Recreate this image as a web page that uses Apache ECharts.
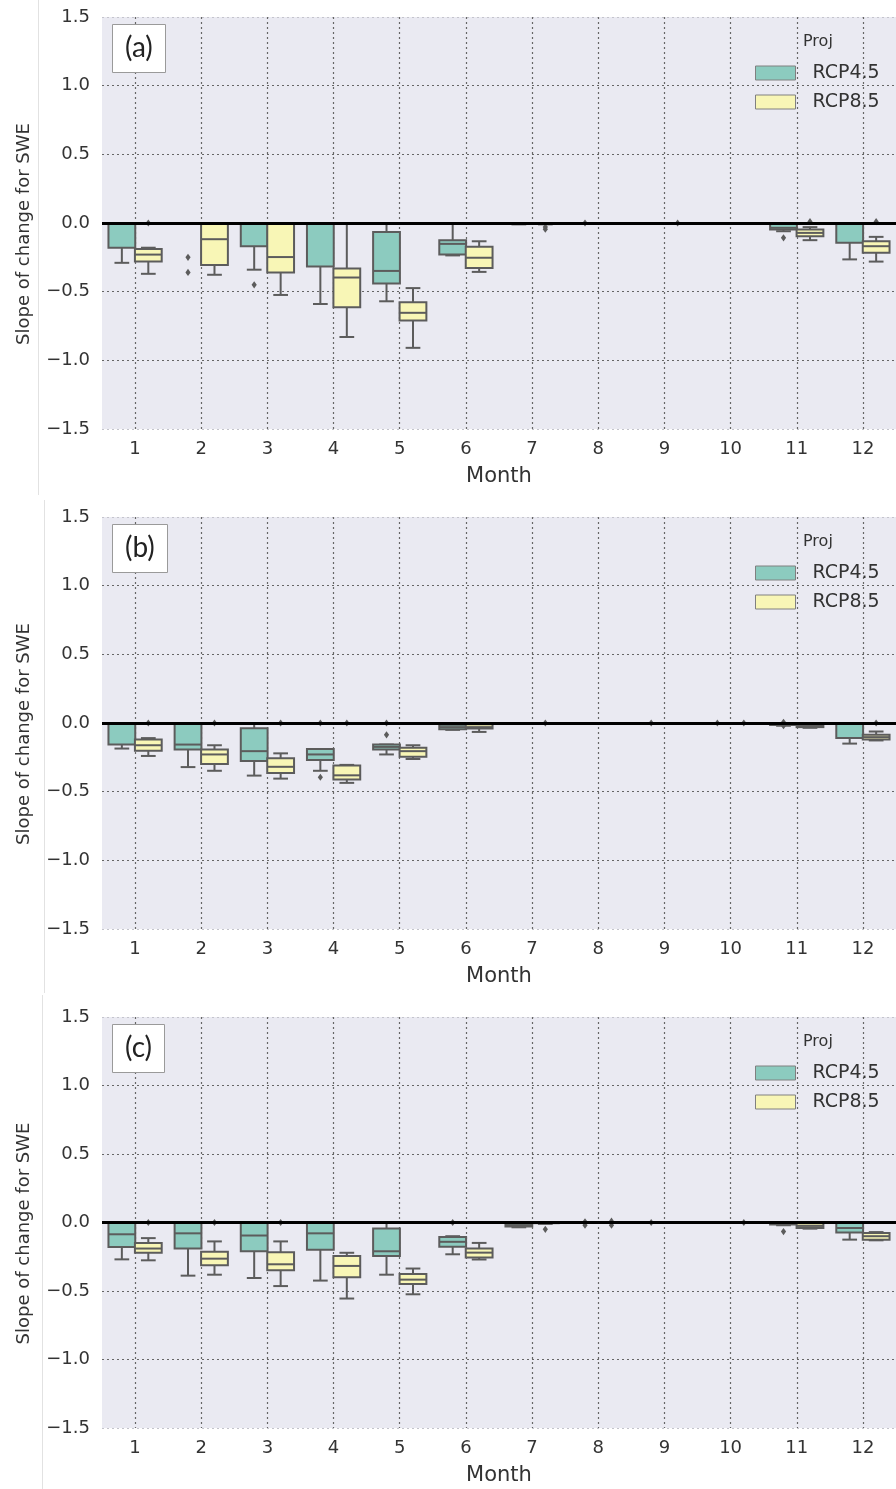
<!DOCTYPE html>
<html><head><meta charset="utf-8">
<script src="https://cdn.jsdelivr.net/npm/echarts@6/dist/echarts.min.js"></script>
<style>html,body{margin:0;padding:0;background:#fff}#c{width:896px;height:1489px}</style>
</head><body><div id="c"></div>
<script>
// ---------- data ----------
const months = ['1','2','3','4','5','6','7','8','9','10','11','12'];
const projections = ['RCP4.5', 'RCP8.5'];
const panelLabels = ['(a)', '(b)', '(c)'];
const yMin = -1.5, yMax = 1.5, yStep = 0.5;

// box stats per month: [min, q1, median, q3, max]
const boxA45 = [[-0.29,-0.18,0,0,0],[0,0,0,0,0],[-0.34,-0.17,0,0,0],[-0.59,-0.317,0,0,0],[-0.57,-0.44,-0.349,-0.065,0],[-0.236,-0.229,-0.152,-0.126,0],[-0.01,-0.005,0,0,0],[0,0,0,0,0],[0,0,0,0,0],[0,0,0,0,0],[-0.06,-0.048,-0.035,0,0],[-0.265,-0.144,0,0,0]];
const boxA85 = [[-0.37,-0.28,-0.23,-0.19,-0.18],[-0.377,-0.305,-0.118,0,0],[-0.524,-0.36,-0.248,0,0],[-0.83,-0.613,-0.397,-0.332,0],[-0.909,-0.71,-0.654,-0.577,-0.474],[-0.356,-0.327,-0.253,-0.173,-0.133],[-0.01,-0.005,0,0,0],[0,0,0,0,0],[0,0,0,0,0],[0,0,0,0,0],[-0.125,-0.096,-0.072,-0.048,-0.03],[-0.281,-0.216,-0.169,-0.133,-0.101]];
const outA45 = [[2,-0.25],[2,-0.36],[3,-0.45],[8,0.0],[11,-0.108]];
const outA85 = [[1,0.0],[7,-0.03],[7,-0.045],[9,0.0],[11,0.01],[12,0.01]];

const boxB45 = [[-0.186,-0.157,0,0,0],[-0.321,-0.193,-0.157,0,0],[-0.383,-0.276,-0.205,-0.038,0],[-0.348,-0.269,-0.229,-0.19,-0.19],[-0.229,-0.193,-0.174,-0.157,-0.157],[-0.05,-0.045,-0.03,-0.012,0],[0,0,0,0,0],[0,0,0,0,0],[0,0,0,0,0],[0,0,0,0,0],[-0.02,-0.015,-0.005,0,0],[-0.15,-0.11,0,0,0]];
const boxB85 = [[-0.24,-0.202,-0.162,-0.121,-0.11],[-0.348,-0.299,-0.229,-0.193,-0.162],[-0.405,-0.364,-0.319,-0.257,-0.221],[-0.436,-0.412,-0.381,-0.31,-0.305],[-0.262,-0.245,-0.205,-0.181,-0.162],[-0.065,-0.04,-0.03,-0.01,0],[0,0,0,0,0],[0,0,0,0,0],[0,0,0,0,0],[0,0,0,0,0],[-0.035,-0.03,-0.025,-0.02,-0.01],[-0.127,-0.12,-0.103,-0.086,-0.062]];
const outB45 = [[4,0.0],[4,-0.395],[5,0.0],[5,-0.086],[9,0.0],[10,0.0],[11,0.005],[11,-0.02]];
const outB85 = [[1,0.0],[2,0.0],[3,0.0],[4,0.0],[7,0.0],[10,0.0],[12,0.0]];

const boxC45 = [[-0.269,-0.179,-0.086,0,0],[-0.388,-0.19,-0.079,0,0],[-0.405,-0.21,-0.095,0,0],[-0.424,-0.198,-0.079,0,0],[-0.381,-0.245,-0.21,-0.043,0],[-0.232,-0.177,-0.141,-0.106,-0.1],[-0.035,-0.03,-0.02,-0.01,0],[0,0,0,0,0],[0,0,0,0,0],[0,0,0,0,0],[-0.02,-0.015,-0.01,0,0],[-0.125,-0.073,-0.04,0,0]];
const boxC85 = [[-0.276,-0.221,-0.19,-0.15,-0.114],[-0.381,-0.312,-0.264,-0.214,-0.138],[-0.464,-0.348,-0.305,-0.217,-0.138],[-0.555,-0.4,-0.317,-0.245,-0.221],[-0.524,-0.448,-0.417,-0.376,-0.336],[-0.27,-0.256,-0.22,-0.19,-0.149],[-0.01,-0.005,0,0,0],[0,0,0,0,0],[0,0,0,0,0],[0,0,0,0,0],[-0.045,-0.04,-0.025,-0.005,0],[-0.13,-0.125,-0.1,-0.077,-0.07]];
const outC45 = [[6,0.0],[8,0.005],[8,-0.02],[9,0.0],[11,-0.066]];
const outC85 = [[1,0.0],[2,0.0],[3,0.0],[7,-0.05],[8,0.01],[8,-0.02],[10,0.0]];

// ---------- styling ----------
const TEAL = '#8ccbbf', YELLOW = '#f8f6b6', EDGE = '#5c5c5c';
const GRID_BG = '#eaeaf2', TXT = '#333333';
const panelTops = [17, 517, 1017];
const panelHeights = [412, 412, 411];
const panels = [
  {box: [boxA45, boxA85], out: [outA45, outA85]},
  {box: [boxB45, boxB85], out: [outB45, outB85]},
  {box: [boxC45, boxC85], out: [outC45, outC85]}
];
const colors = [TEAL, YELLOW];
const offsets = [-0.2, 0.2];

function boxRenderer(off) {
  return function (params, api) {
    const i = api.value(0);
    const band = api.size([1, 0])[0];
    const xc = api.coord([i, 0])[0] + off * band;
    const w = band * 0.405, cw = w * 0.55;
    const y = k => api.coord([i, api.value(k)])[1];
    const yLo = y(1), yQ1 = y(2), yMed = y(3), yQ3 = y(4), yHi = y(5);
    const st = {stroke: EDGE, lineWidth: 2, fill: null};
    return {type: 'group', children: [
      {type: 'line', shape: {x1: xc, y1: yHi, x2: xc, y2: yQ3}, style: st},
      {type: 'line', shape: {x1: xc, y1: yQ1, x2: xc, y2: yLo}, style: st},
      {type: 'line', shape: {x1: xc - cw / 2, y1: yHi, x2: xc + cw / 2, y2: yHi}, style: st},
      {type: 'line', shape: {x1: xc - cw / 2, y1: yLo, x2: xc + cw / 2, y2: yLo}, style: st},
      {type: 'rect', shape: {x: xc - w / 2, y: yQ3, width: w, height: Math.max(yQ1 - yQ3, 0)},
        style: {fill: api.visual('color'), stroke: EDGE, lineWidth: 2}},
      {type: 'line', shape: {x1: xc - w / 2, y1: yMed, x2: xc + w / 2, y2: yMed}, style: st}
    ]};
  };
}
function outlierRenderer(off) {
  return function (params, api) {
    const band = api.size([1, 0])[0];
    const p = api.coord([api.value(0), api.value(1)]);
    const x = p[0] + off * band, y = p[1];
    return {type: 'polygon', shape: {points: [[x, y - 3.6], [x + 2.6, y], [x, y + 3.6], [x - 2.6, y]]},
      style: {fill: EDGE}};
  };
}

const grids = [], xAxes = [], yAxes = [], series = [], legends = [], titles = [];
panels.forEach((pn, g) => {
  grids.push({left: 102, width: 798.5, top: panelTops[g], height: panelHeights[g],
    show: true, backgroundColor: GRID_BG, borderWidth: 0});
  xAxes.push({type: 'category', gridIndex: g, data: months, boundaryGap: true,
    axisLine: {show: false}, axisTick: {show: false},
    axisLabel: {fontSize: 18, color: TXT, margin: 11, interval: 0, fontFamily: 'DejaVu Sans'},
    splitLine: {show: true, alignWithLabel: true, interval: 0,
      lineStyle: {color: '#666', width: 1.2, type: [2, 3]}},
    name: 'Month', nameLocation: 'middle', nameGap: 37,
    nameTextStyle: {fontSize: 21, color: TXT, fontFamily: 'DejaVu Sans'}});
  yAxes.push({type: 'value', gridIndex: g, min: yMin, max: yMax, interval: yStep,
    axisLine: {show: false}, axisTick: {show: false},
    axisLabel: {fontSize: 18, color: TXT, margin: 12, fontFamily: 'DejaVu Sans',
      formatter: v => (v < 0 ? '\u2212' : '') + Math.abs(v).toFixed(1)},
    splitLine: {show: true, lineStyle: {color: ['#c4c4cc', '#666', '#666', '#666', '#666', '#666', '#c4c4cc'], width: 1.2, type: [2, 3]}},
    name: 'Slope of change for SWE', nameLocation: 'middle', nameGap: 69,
    nameTextStyle: {fontSize: 18, color: TXT, fontFamily: 'DejaVu Sans', padding: [0, 22, 0, 0]}});
  [0, 1].forEach(k => {
    series.push({type: 'custom', name: projections[k], xAxisIndex: g, yAxisIndex: g,
      itemStyle: {color: colors[k]}, renderItem: boxRenderer(offsets[k]),
      encode: {x: 0, y: [1, 2, 3, 4, 5]}, silent: true, animation: false,
      data: pn.box[k].map((s, i) => [i].concat(s))});
  });
  [0, 1].forEach(k => {
    const s = {type: 'custom', name: projections[k], xAxisIndex: g, yAxisIndex: g, z: 4,
      itemStyle: {color: colors[k]}, renderItem: outlierRenderer(offsets[k]),
      encode: {x: 0, y: 1}, silent: true, animation: false,
      data: pn.out[k].map(o => [o[0] - 1, o[1]])};
    if (k === 1) {
      s.markLine = {silent: true, symbol: ['none', 'none'], label: {show: false}, animation: false,
        lineStyle: {color: '#000', width: 2.8, type: 'solid'}, data: [{yAxis: 0}]};
    }
    series.push(s);
  });
  legends.push({data: projections, left: 755, top: panelTops[g] + 46, orient: 'vertical',
    padding: 0, itemGap: 9, itemWidth: 40, itemHeight: 14, icon: 'rect', selectedMode: false,
    itemStyle: {borderColor: '#808080', borderWidth: 1},
    textStyle: {fontSize: 19, color: TXT, fontFamily: 'DejaVu Sans', lineHeight: 20, padding: [0, 0, 0, 12]}});
  titles.push({text: panelLabels[g], left: 112, top: panelTops[g] + 7, padding: [9, 13, 10, 13],
    borderColor: '#9a9a9a', borderWidth: 1, backgroundColor: '#fff',
    textStyle: {fontFamily: 'Lato', fontSize: 28, fontWeight: 'normal', color: '#222', lineHeight: 30}});
  titles.push({text: 'Proj', left: 803, top: panelTops[g] + 17, padding: 0,
    textStyle: {fontFamily: 'DejaVu Sans', fontSize: 16, fontWeight: 'normal', color: TXT}});
});

const chart = echarts.init(document.getElementById('c'), null, {renderer: 'canvas'});
chart.setOption({
  animation: false,
  backgroundColor: '#fff',
  title: titles,
  legend: legends,
  grid: grids,
  xAxis: xAxes,
  yAxis: yAxes,
  series: series,
  graphic: [
    {type: 'line', shape: {x1: 38.5, y1: 0, x2: 38.5, y2: 495}, style: {stroke: '#e2e2e2', lineWidth: 1}, silent: true},
    {type: 'line', shape: {x1: 44.5, y1: 500, x2: 44.5, y2: 993}, style: {stroke: '#e2e2e2', lineWidth: 1}, silent: true},
    {type: 'line', shape: {x1: 42.5, y1: 995, x2: 42.5, y2: 1489}, style: {stroke: '#e2e2e2', lineWidth: 1}, silent: true}
  ]
});
</script></body></html>
